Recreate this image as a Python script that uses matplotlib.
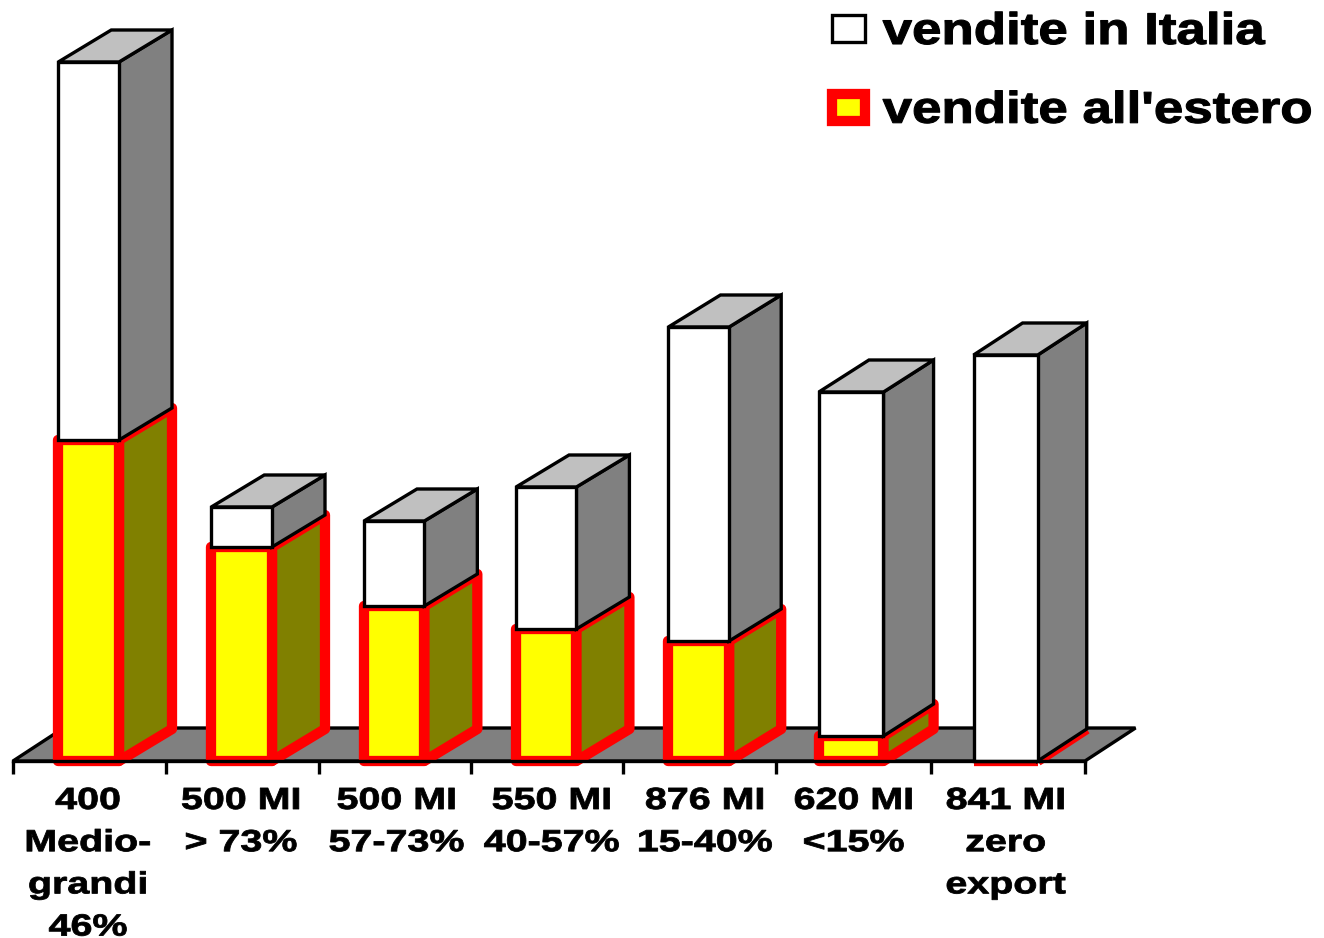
import matplotlib
matplotlib.use("Agg")
import matplotlib.pyplot as plt
from matplotlib.patches import Polygon, Patch
from matplotlib.patheffects import AbstractPathEffect
from matplotlib.transforms import Affine2D

# ---- data (arbitrary height units) ----
categories = ["400\nMedio-\ngrandi\n46%", "500 MI\n> 73%", "500 MI\n57-73%",
              "550 MI\n40-57%", "876 MI\n15-40%", "620 MI\n<15%", "841 MI\nzero\nexport"]
vendite_estero = [321, 214, 155, 132, 120, 25, 0]
vendite_italia = [378, 40, 85, 142, 314, 344, 406]
legend_labels = ["vendite in Italia", "vendite all'estero"]

# ---- layout ----
slot_edges = [0, 0.999, 1.998, 2.991, 3.984, 4.983, 5.995, 7.0]
bar_fraction = [0.397, 0.397, 0.397, 0.397, 0.397, 0.417, 0.417]
right_fraction = 0.693
label_shift = [-0.01, -0.01, 0.01, 0.03, 0.035, 0.0, -0.015]
depth_x = [0.346, 0.346, 0.346, 0.346, 0.34, 0.327, 0.32]
depth_y = 32
floor_x, floor_depth_top = 0.33, 33
px_per_slot = 153.14
left_px, base_px, W, H = 13, 761, 1324, 938
BLACK_LW, RED_LW = 2.4, 7.4


class StretchX(AbstractPathEffect):
    """Widen and embolden glyph outlines (the source text is an extended heavy bold)."""
    def __init__(self, factor, anchor="center", stroke=0.6):
        super().__init__()
        self.factor, self.anchor, self.stroke = factor, anchor, stroke

    def draw_path(self, renderer, gc, tpath, affine, rgbFace=None):
        ext = affine.transform_path(tpath).get_extents()
        cx = ext.x0 if self.anchor == "left" else 0.5 * (ext.x0 + ext.x1)
        extra = Affine2D().translate(-cx, 0).scale(self.factor, 1).translate(cx, 0)
        gc0 = renderer.new_gc()
        gc0.copy_properties(gc)
        gc0.set_linewidth(self.stroke)
        gc0.set_foreground(rgbFace)
        renderer.draw_path(gc0, tpath, affine + extra, rgbFace)
        gc0.restore()


plt.rcParams["font.family"] = ["Liberation Sans", "DejaVu Sans"]
fig = plt.figure(figsize=(W / 100, H / 100), dpi=100)
ax = fig.add_axes([0, 0, 1, 1])
ax.set_xlim(-left_px / px_per_slot, (W - left_px) / px_per_slot)
ax.set_ylim(base_px - H, base_px)
ax.patch.set_visible(False)


def poly(pts, face, edge, lw):
    ax.add_patch(Polygon(pts, closed=True, facecolor=face, edgecolor=edge, linewidth=lw,
                         joinstyle="miter" if edge == "black" else "round"))


def draw_box(x0, x1, y0, y1, dx, front, side, top, edge, lw):
    poly([(x1, y0), (x1 + dx, y0 + depth_y), (x1 + dx, y1 + depth_y), (x1, y1)], side, edge, lw)
    if top is not None:
        poly([(x0, y1), (x0 + dx, y1 + depth_y), (x1 + dx, y1 + depth_y), (x1, y1)], top, edge, lw)
    poly([(x0, y0), (x1, y0), (x1, y1), (x0, y1)], front, edge, lw)


# floor
poly([(slot_edges[0], 0), (slot_edges[-1], 0),
      (slot_edges[-1] + floor_x, floor_depth_top), (slot_edges[0] + floor_x, floor_depth_top)],
     "#808080", "black", BLACK_LW)

for i, (est, ita) in enumerate(zip(vendite_estero, vendite_italia)):
    slot = slot_edges[i + 1] - slot_edges[i]
    x1 = slot_edges[i] + right_fraction * slot
    x0 = x1 - bar_fraction[i] * slot
    draw_box(x0, x1, 0, est, depth_x[i], "#FFFF00", "#808000", None, "#FF0000", RED_LW)
    draw_box(x0, x1, est, est + ita, depth_x[i], "#FFFFFF", "#808080", "#C0C0C0", "black", BLACK_LW)

# axis
for s in ("left", "right", "top"):
    ax.spines[s].set_visible(False)
ax.spines["bottom"].set_position(("data", 0))
ax.spines["bottom"].set_bounds(slot_edges[0], slot_edges[-1])
ax.spines["bottom"].set_linewidth(BLACK_LW)
ax.spines["bottom"].set_zorder(5)
ax.yaxis.set_visible(False)
ax.set_axisbelow(False)
ax.set_xticks(slot_edges)
ax.set_xticklabels([])
ax.tick_params(axis="x", which="major", length=9, width=BLACK_LW, direction="out")
centres = [0.5 * (slot_edges[i] + slot_edges[i + 1]) + label_shift[i] for i in range(len(categories))]
ax.set_xticks(centres, minor=True)
ax.set_xticklabels(categories, minor=True, fontsize=22, fontweight="bold", linespacing=1.53, ha="center")
ax.tick_params(axis="x", which="minor", length=0, pad=18)
for lab in ax.get_xticklabels(minor=True):
    lab.set_path_effects([StretchX(1.29)])

# legend
handles = [Patch(facecolor="white", edgecolor="black", linewidth=BLACK_LW),
           Patch(facecolor="#FFFF00", edgecolor="#FF0000", linewidth=RED_LW)]
leg = ax.legend(handles, legend_labels, loc="upper left",
                bbox_to_anchor=(792 / W, 1 + 28 / H), bbox_transform=fig.transFigure,
                frameon=False, fontsize=32, handlelength=0.74, handleheight=0.56,
                handletextpad=0.4, labelspacing=0.85, borderpad=0.4)
for t in leg.get_texts():
    t.set_fontweight("bold")
    t.set_fontsize(32)
    t.set_path_effects([StretchX(1.19, "left", 0.8)])

fig.savefig("out.png", dpi=100)
